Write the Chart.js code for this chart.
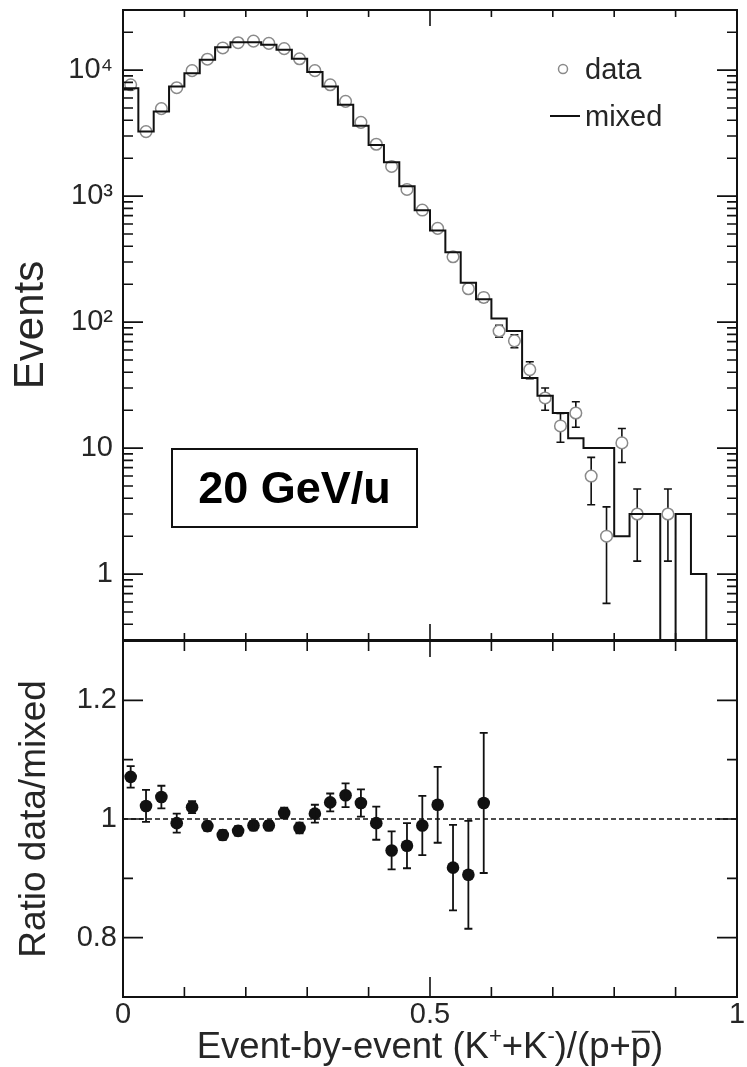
<!DOCTYPE html>
<html>
<head>
<meta charset="utf-8">
<script src="https://cdn.jsdelivr.net/npm/chart.js@4.4.1/dist/chart.umd.min.js"></script>
<style>
  html, body { margin: 0; padding: 0; background: #fff; }
  #wrap { position: relative; width: 747px; height: 1067px; overflow: hidden; }
  canvas { position: absolute; left: 0; }
  #eventsCanvas { top: 0; }
  #ratioCanvas { top: 620px; }
</style>
</head>
<body>
<div id="wrap">
  <canvas id="eventsCanvas" width="747" height="660"></canvas>
  <canvas id="ratioCanvas" width="747" height="447"></canvas>
</div>
<script>
// ---- binning: lower edges of the 0.025-wide bins of (K+ + K-)/(p + pbar)
const binLow = [0.000, 0.025, 0.050, 0.075, 0.100, 0.125, 0.150, 0.175, 0.200, 0.225,
                0.250, 0.275, 0.300, 0.325, 0.350, 0.375, 0.400, 0.425, 0.450, 0.475,
                0.500, 0.525, 0.550, 0.575, 0.600, 0.625, 0.650, 0.675, 0.700, 0.725,
                0.750, 0.775, 0.800, 0.825, 0.850, 0.875, 0.900, 0.925, 0.950, 0.975];
const binWidth = 0.025;

// ---- mixed-event histogram (counts per bin)
const mixedCounts = [7190, 3250, 4690, 7410, 9460, 12080, 15170, 16630, 16630, 15920,
                     14520, 12310, 9640, 7410, 5300, 3620, 2540, 1860, 1200, 771,
                     534, 359, 205, 152, 107, 85, 36, 26, 19, 12,
                     10, 10, 2, 3, 3, 0, 3, 1, 0, 0];

// ---- real events (counts per bin, 0 = empty)
const dataCounts = [7650, 3250, 4950, 7250, 9900, 12200, 15000, 16500, 17000, 16300,
                    14800, 12300, 9900, 7650, 5650, 3850, 2580, 1720, 1130, 775,
                    555, 330, 184, 157, 85, 71, 42, 25, 15, 19,
                    6, 2, 11, 3, 0, 3, 0, 0, 0, 0];

// ---- ratio data/mixed for the first 24 bins, with uncertainties
const ratioValues = [1.071, 1.022, 1.037, 0.993, 1.020, 0.988, 0.973, 0.980, 0.989, 0.989,
                     1.010, 0.985, 1.009, 1.028, 1.040, 1.027, 0.993, 0.947, 0.955, 0.989,
                     1.024, 0.918, 0.906, 1.027];
const ratioErrors = [0.018, 0.027, 0.019, 0.016, 0.010, 0.008, 0.008, 0.008, 0.008, 0.008,
                     0.009, 0.009, 0.015, 0.015, 0.020, 0.023, 0.028, 0.032, 0.038, 0.050,
                     0.064, 0.072, 0.091, 0.118];
const ratioReference = 1;

// ---- axes
const xRange = [0, 1];
const xLabelValues = [0, 0.5, 1];
const xLabels = ['0', '0.5', '1'];
const xMinorTicks = [0.1, 0.2, 0.3, 0.4, 0.6, 0.7, 0.8, 0.9];
const xMajorTicks = [0.5];

const eventsRange = [0.3, 30000];
const eventsTickValues = [1, 10, 100, 1000, 10000];
const eventsTickLabels = ['1', '10', '10\u00B2', '10\u00B3', '10\u2074'];

const ratioRange = [0.7, 1.3];
const ratioTickValues = [0.8, 1, 1.2];
const ratioTickLabels = ['0.8', '1', '1.2'];
const ratioMinorTicks = [0.9, 1.1];

const energyLabel = '20 GeV/u';
const legendLabels = ['data', 'mixed'];

// ---- styling
const FONT = "'Liberation Sans', Arial, Helvetica, sans-serif";
const INK = '#111';
const TEXT = '#262626';
const CIRCLE = '#8a8a8a';
Chart.defaults.font.family = FONT;
Chart.defaults.color = TEXT;

const AXIS_W = 123;

function logMinorTicks(lo, hi) {
  const out = [];
  for (let e = Math.floor(Math.log10(lo)); e <= Math.ceil(Math.log10(hi)); e++) {
    for (let m = 2; m <= 9; m++) {
      const v = m * Math.pow(10, e);
      if (v > lo && v < hi) out.push(v);
    }
  }
  return out;
}

// fixed-width vertical axis with no extra label overhang padding
function fitVertical(s) {
  s.width = AXIS_W;
  s.paddingTop = 0;
  s.paddingBottom = 0;
}

function strokeTicks(chart, spec) {
  const { ctx, chartArea: a, scales: { x, y } } = chart;
  ctx.save();
  ctx.strokeStyle = INK;
  ctx.lineWidth = 1.6;
  ctx.beginPath();
  const xs = [[xMinorTicks, spec.xTopMinor, spec.xBotMinor], [xMajorTicks, spec.xTopMajor, spec.xBotMajor]];
  for (const [vals, lt, lb] of xs) {
    for (const v of vals) {
      const px = x.getPixelForValue(v);
      ctx.moveTo(px, a.top); ctx.lineTo(px, a.top + lt);
      ctx.moveTo(px, a.bottom); ctx.lineTo(px, a.bottom - lb);
    }
  }
  const ys = [[spec.yMajor, spec.yMajorLen], [spec.yMinor, spec.yMinorLen]];
  for (const [vals, len] of ys) {
    for (const v of vals) {
      const py = y.getPixelForValue(v);
      ctx.moveTo(a.left, py); ctx.lineTo(a.left + len, py);
      ctx.moveTo(a.right, py); ctx.lineTo(a.right - len, py);
    }
  }
  ctx.stroke();
  ctx.lineWidth = 2;
  ctx.strokeRect(a.left, a.top, a.right - a.left, a.bottom - a.top);
  ctx.restore();
}

function drawErrorBars(chart, datasetIndex, lows, highs, cap, color, width) {
  const { ctx, chartArea: a, scales: { x, y } } = chart;
  const pts = chart.data.datasets[datasetIndex].data;
  ctx.save();
  ctx.beginPath();
  ctx.rect(a.left, a.top, a.right - a.left, a.bottom - a.top);
  ctx.clip();
  ctx.strokeStyle = color;
  ctx.lineWidth = width;
  ctx.beginPath();
  pts.forEach((p, i) => {
    if (p.y === null || lows[i] === null) return;
    const px = x.getPixelForValue(p.x);
    const y1 = y.getPixelForValue(lows[i]);
    const y2 = y.getPixelForValue(highs[i]);
    ctx.moveTo(px, y1); ctx.lineTo(px, y2);
    ctx.moveTo(px - cap, y1); ctx.lineTo(px + cap, y1);
    ctx.moveTo(px - cap, y2); ctx.lineTo(px + cap, y2);
  });
  ctx.stroke();
  ctx.restore();
}

// ================= upper panel: event counts =================
const mixedStep = binLow.map((x, i) => ({ x, y: mixedCounts[i] > 0 ? mixedCounts[i] : eventsRange[0] }));
mixedStep.push({ x: xRange[1], y: mixedStep[mixedStep.length - 1].y });
const dataPoints = binLow.map((x, i) => ({ x: x + binWidth / 2, y: dataCounts[i] > 0 ? dataCounts[i] : null }));
const dataLow = dataCounts.map(n => n > 0 ? n - Math.sqrt(n) : null);
const dataHigh = dataCounts.map(n => n > 0 ? n + Math.sqrt(n) : null);

const eventsDecor = {
  id: 'eventsDecor',
  beforeDatasetsDraw(chart) {
    drawErrorBars(chart, 1, dataLow, dataHigh, 4, INK, 1.6);
  },
  afterDraw(chart) {
    const { ctx, chartArea: a } = chart;
    strokeTicks(chart, {
      xTopMinor: 7, xTopMajor: 16, xBotMinor: 7, xBotMajor: 16,
      yMajor: eventsTickValues, yMajorLen: 20,
      yMinor: logMinorTicks(eventsRange[0], eventsRange[1]), yMinorLen: 10
    });
    // legend
    ctx.save();
    const lx = a.right - 174, ly = a.top + 59;
    ctx.strokeStyle = CIRCLE; ctx.lineWidth = 1.5;
    ctx.beginPath(); ctx.arc(lx, ly, 4.5, 0, Math.PI * 2); ctx.stroke();
    ctx.strokeStyle = INK; ctx.lineWidth = 2;
    ctx.beginPath(); ctx.moveTo(lx - 13, ly + 47); ctx.lineTo(lx + 17, ly + 47); ctx.stroke();
    ctx.fillStyle = TEXT;
    ctx.font = `29px ${FONT}`;
    ctx.textBaseline = 'alphabetic';
    ctx.textAlign = 'left';
    ctx.fillText(legendLabels[0], lx + 22, ly + 10);
    ctx.fillText(legendLabels[1], lx + 22, ly + 57);
    // energy box
    const bx = a.left + 49, by = a.top + 439, bw = 245, bh = 78;
    ctx.lineWidth = 2; ctx.strokeStyle = INK;
    ctx.strokeRect(bx, by, bw, bh);
    ctx.fillStyle = '#000';
    ctx.font = `bold 45px ${FONT}`;
    ctx.textAlign = 'center';
    ctx.fillText(energyLabel, bx + bw / 2, by + 54);
    ctx.restore();
  }
};

new Chart(document.getElementById('eventsCanvas'), {
  type: 'line',
  data: {
    datasets: [
      {
        label: 'mixed', data: mixedStep, stepped: 'before',
        borderColor: INK, borderWidth: 2, pointRadius: 0, fill: false, order: 0
      },
      {
        label: 'data', data: dataPoints, showLine: false,
        pointRadius: 5.8, pointBorderWidth: 1.5, pointBorderColor: CIRCLE,
        pointBackgroundColor: '#fff', order: 1
      }
    ]
  },
  options: {
    responsive: false, animation: false, devicePixelRatio: 1,
    layout: { padding: { left: 0, right: 10, top: 10, bottom: 20 } },
    plugins: { legend: { display: false }, tooltip: { enabled: false } },
    scales: {
      x: { type: 'linear', min: xRange[0], max: xRange[1], display: false },
      y: {
        type: 'logarithmic', min: eventsRange[0], max: eventsRange[1],
        afterBuildTicks: s => { s.ticks = eventsTickValues.map(v => ({ value: v })); },
        afterFit: fitVertical,
        grid: { display: false, drawTicks: false }, border: { display: false },
        ticks: {
          padding: 10, color: TEXT, font: { size: 29 },
          callback: v => eventsTickLabels[eventsTickValues.indexOf(v)]
        },
        title: { display: true, text: 'Events', color: TEXT, font: { size: 42 }, padding: { top: 6 } }
      }
    }
  },
  plugins: [eventsDecor]
});

// ================= lower panel: ratio data/mixed =================
const ratioPoints = ratioValues.map((r, i) => ({ x: binLow[i] + binWidth / 2, y: r }));
const ratioLow = ratioValues.map((r, i) => r - ratioErrors[i]);
const ratioHigh = ratioValues.map((r, i) => r + ratioErrors[i]);

function drawXTitle(ctx, cx, baseline) {
  const S = 36.5, s = 22, rise = 0.42 * S;
  const parts = [
    { t: 'Event-by-event (K', size: S },
    { t: '+', size: s, dy: -rise },
    { t: '+K', size: S },
    { t: '-', size: s, dy: -rise },
    { t: ')/(p+', size: S },
    { t: 'p', size: S, bar: true },
    { t: ')', size: S }
  ];
  ctx.save();
  ctx.fillStyle = TEXT;
  ctx.textBaseline = 'alphabetic';
  ctx.textAlign = 'left';
  let total = 0;
  for (const p of parts) { ctx.font = `${p.size}px ${FONT}`; p.w = ctx.measureText(p.t).width; total += p.w; }
  let x = cx - total / 2;
  for (const p of parts) {
    ctx.font = `${p.size}px ${FONT}`;
    ctx.fillText(p.t, x, baseline + (p.dy || 0));
    if (p.bar) {
      ctx.strokeStyle = TEXT; ctx.lineWidth = 2;
      ctx.beginPath();
      ctx.moveTo(x + 1, baseline - 0.72 * S); ctx.lineTo(x + p.w - 1, baseline - 0.72 * S);
      ctx.stroke();
    }
    x += p.w;
  }
  ctx.restore();
}

const ratioDecor = {
  id: 'ratioDecor',
  afterDatasetsDraw(chart) {
    drawErrorBars(chart, 1, ratioLow, ratioHigh, 4, INK, 1.8);
  },
  afterDraw(chart) {
    const { ctx, chartArea: a } = chart;
    strokeTicks(chart, {
      xTopMinor: 10, xTopMajor: 16, xBotMinor: 10, xBotMajor: 20,
      yMajor: ratioTickValues, yMajorLen: 20,
      yMinor: ratioMinorTicks, yMinorLen: 10
    });
    drawXTitle(ctx, (a.left + a.right) / 2, a.bottom + 61);
  }
};

new Chart(document.getElementById('ratioCanvas'), {
  type: 'line',
  data: {
    datasets: [
      {
        label: 'unity',
        data: [{ x: xRange[0], y: ratioReference }, { x: xRange[1], y: ratioReference }],
        borderColor: INK, borderWidth: 1.6, borderDash: [5, 3], pointRadius: 0, fill: false, order: 2
      },
      {
        label: 'ratio', data: ratioPoints, showLine: false,
        pointRadius: 6.3, pointBorderWidth: 0, pointBackgroundColor: INK, pointBorderColor: INK, order: 0
      }
    ]
  },
  options: {
    responsive: false, animation: false, devicePixelRatio: 1,
    layout: { padding: { left: 0, right: 10, top: 21, bottom: 0 } },
    plugins: { legend: { display: false }, tooltip: { enabled: false } },
    scales: {
      x: {
        type: 'linear', min: xRange[0], max: xRange[1],
        afterBuildTicks: s => { s.ticks = xLabelValues.map(v => ({ value: v })); },
        afterFit: s => { s.height = 70; },
        grid: { display: false, drawTicks: false }, border: { display: false },
        ticks: {
          padding: 1, color: TEXT, font: { size: 29 }, maxRotation: 0, autoSkip: false,
          callback: v => xLabels[xLabelValues.indexOf(v)]
        }
      },
      y: {
        type: 'linear', min: ratioRange[0], max: ratioRange[1],
        afterBuildTicks: s => { s.ticks = ratioTickValues.map(v => ({ value: v })); },
        afterFit: fitVertical,
        grid: { display: false, drawTicks: false }, border: { display: false },
        ticks: {
          padding: 6, color: TEXT, font: { size: 29 },
          callback: v => ratioTickLabels[ratioTickValues.indexOf(v)]
        },
        title: { display: true, text: 'Ratio data/mixed', color: TEXT, font: { size: 37 }, padding: { top: 13 } }
      }
    }
  },
  plugins: [ratioDecor]
});
</script>
</body>
</html>
